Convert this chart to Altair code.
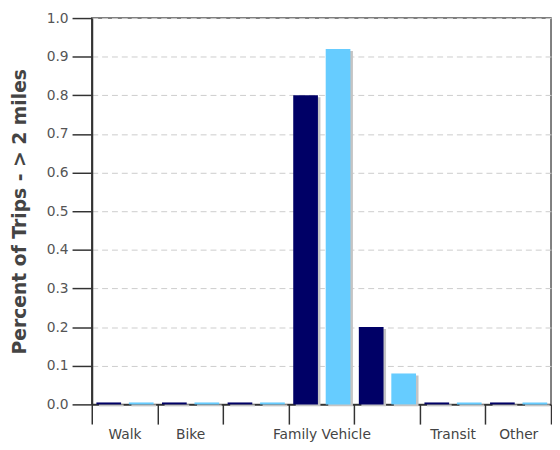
import altair as alt
import pandas as pd

categories = ["Walk", "Bike", "School Bus", "Family Vehicle", "Carpool", "Transit", "Other"]
hidden_labels = ["School Bus", "Carpool"]
series_names = ["Morning", "Afternoon"]
morning = [0.005, 0.005, 0.005, 0.80, 0.20, 0.005, 0.005]
afternoon = [0.005, 0.005, 0.005, 0.92, 0.08, 0.005, 0.005]
colors = ["#000066", "#66ccff"]
y_ticks = [round(i * 0.1, 1) for i in range(11)]

rows = []
for c, a, b in zip(categories, morning, afternoon):
    rows.append({"mode": c, "series": series_names[0], "value": a})
    rows.append({"mode": c, "series": series_names[1], "value": b})
df = pd.DataFrame(rows)

label_expr = "indexof(" + str(hidden_labels).replace("'", '"') + ", datum.value) >= 0 ? '' : datum.value"

x_enc = alt.X(
    "mode:N",
    sort=categories,
    scale=alt.Scale(paddingInner=0, paddingOuter=0),
    axis=alt.Axis(
        title=None,
        labelAngle=0,
        tickBand="extent",
        tickSize=20,
        tickColor="#333333",
        tickWidth=1.5,
        domainColor="#333333",
        domainWidth=2,
        labelPadding=4,
        labelFont="DejaVu Sans",
        labelFontSize=14,
        labelColor="#444444",
        labelExpr=label_expr,
        grid=False,
    ),
)
y_enc = alt.Y(
    "value:Q",
    scale=alt.Scale(domain=[0, 1], nice=False),
    axis=alt.Axis(
        title="Percent of Trips - > 2 miles",
        titleFont="DejaVu Sans",
        titleFontSize=19,
        titleFontWeight="bold",
        titleColor="#444444",
        titlePadding=17,
        values=y_ticks,
        format=".1f",
        tickSize=20,
        tickColor="#333333",
        tickWidth=1.5,
        domainColor="#333333",
        domainWidth=2,
        labelPadding=4,
        labelFont="DejaVu Sans",
        labelFontSize=14,
        labelColor="#555555",
        grid=True,
        gridColor="#cccccc",
        gridDash=[6, 4],
        gridWidth=1,
    ),
)

shadow = alt.Chart(df).mark_bar(color="#c4c4c4", yOffset=2).encode(
    x=x_enc,
    xOffset=alt.XOffset(
        "series:N",
        sort=series_names,
        scale=alt.Scale(paddingInner=0.24, paddingOuter=0.13, align=0.85),
    ),
    y=y_enc,
)
bars = alt.Chart(df).mark_bar().encode(
    x=x_enc,
    xOffset=alt.XOffset(
        "series:N",
        sort=series_names,
        scale=alt.Scale(paddingInner=0.24, paddingOuter=0.13, align=0.55),
    ),
    y=y_enc,
    color=alt.Color(
        "series:N",
        sort=series_names,
        scale=alt.Scale(domain=series_names, range=colors),
        legend=None,
    ),
)

chart = (
    alt.layer(shadow, bars)
    .resolve_scale(xOffset="independent")
    .properties(width=466, height=392, padding={"left": 2, "top": 0, "right": 0, "bottom": 0})
    .configure_view(stroke="#555555", strokeWidth=1.5)
)

chart.save("out.html", embed_options={"renderer": "svg", "actions": False})
